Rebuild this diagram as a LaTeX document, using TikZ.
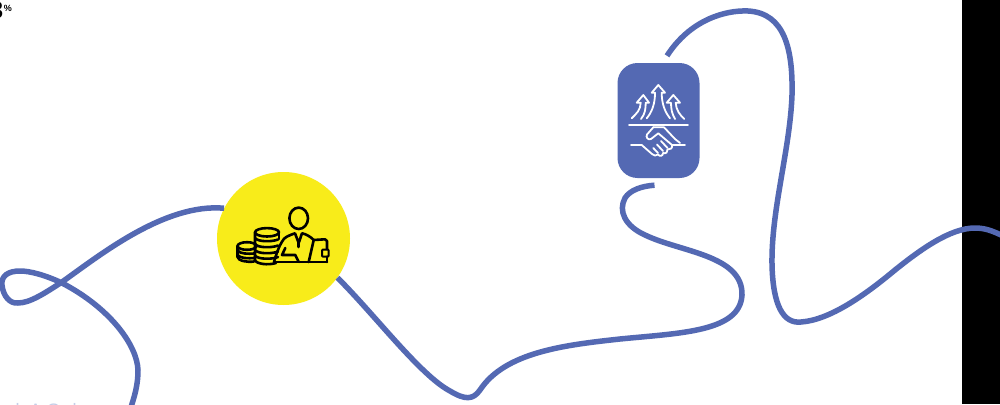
\documentclass[tikz,border=0pt]{standalone}
\usepackage{fontspec}
\setmainfont{Liberation Sans}
\definecolor{curveblue}{HTML}{5469B3}
\definecolor{sunyellow}{HTML}{F8EC1A}
\definecolor{faintblue}{HTML}{C5CEE8}
\tikzset{
  curve/.style={draw=curveblue,line width=5.5pt,line cap=butt},
  inkb/.style={draw=black,line width=2.6pt,line join=round,line cap=round},
  inkw/.style={draw=white,line width=1.8pt,line join=round,line cap=round},
}
\begin{document}
\begin{tikzpicture}[x=1pt,y=-1pt]
\useasboundingbox (0,0) rectangle (1000,404);
\fill[white] (0,0) rectangle (1000,404);
\fill[black] (962,0) rectangle (1000,404);
\begin{scope}
\clip (0,0) rectangle (1000,404);
\node[font=\bfseries\fontsize{24pt}{24pt}\selectfont,anchor=base east,inner sep=0pt] (big) at (3.5,19) {3};
\node[font=\bfseries\fontsize{9pt}{9pt}\selectfont,anchor=center,inner sep=0pt] (pct) at (8,8) {\%};
\node[font=\fontsize{18pt}{18pt}\selectfont,text=faintblue,anchor=base west,inner sep=0pt] (low) at (15.5,416) {l\hspace{10pt}A\hspace{5pt}G\hspace{12pt}l};
\coordinate (a0) at (131,407);
\coordinate (c0) at (1003,236);
\node[circle,fill=sunyellow,minimum size=133pt,inner sep=0pt] (coin) at (283.5,238.5) {};
\node[rectangle,rounded corners=20pt,fill=curveblue,minimum width=82pt,minimum height=115pt,inner sep=0pt] (deal) at (658.5,120.5) {};
\draw[curve] (a0) .. controls (136,392) and (138,382) .. (138,370)
  .. controls (137,345) and (110,308) .. (62,283)
  .. controls (45,275) and (30,271) .. (20,271)
  .. controls (8,271) and (1,276) .. (2,285)
  .. controls (3,296) and (10,304) .. (18,303)
  .. controls (30,303) and (45,293) .. (62,282)
  .. controls (100,255) and (165,203) .. (coin.153);
\draw[curve] (coin.-36) .. controls (375,315) and (420,375) .. (450,391)
  .. controls (465,400) and (473,400) .. (480,390)
  .. controls (505,352) and (565,345) .. (620,339)
  .. controls (680,333) and (740,332) .. (742,295)
  .. controls (743,255) and (680,252) .. (645,235)
  .. controls (625,226) and (618,211) .. (625,198)
  .. controls (630,190) and (642,186) .. ([xshift=-4pt,yshift=-7pt]deal.south);
\draw[curve] ([xshift=8.5pt,yshift=7pt]deal.north) .. controls (690,20) and (725,10) .. (748,11)
  .. controls (785,13) and (793,50) .. (792,95)
  .. controls (790,150) and (771,210) .. (772,265)
  .. controls (773,305) and (783,324) .. (801,322)
  .. controls (830,320) and (865,295) .. (895,270)
  .. controls (920,250) and (950,228) .. (975,228)
  .. controls (985,228) and (993,231) .. (c0);
\end{scope}
% person, coins and laptop icon
\draw[inkb] (298.7,218.3) ellipse (9.3 and 10.7);
\draw[inkb] (267,232.3) ellipse (12 and 4.2);
\draw[inkb] (255,232.3) -- (255,260) .. controls (256,264) and (268,265.5) .. (276,263);
\foreach \y in {241.5,247.5,253.5,259}{
  \draw[inkb] (255,\y-3.5) .. controls (258,\y+0.5) and (272,\y+0.5) .. (278,\y-2);
}
\draw[inkb] (279,232.3) -- (279,239);
\draw[inkb] (247,246) ellipse (9.5 and 3.8);
\draw[inkb] (237.5,246) -- (237.5,257) .. controls (238,261) and (248,262.5) .. (254,261.5);
\draw[inkb] (237.5,250.5) .. controls (240,254) and (249,254) .. (254,253.5);
\draw[inkb] (237.5,255) .. controls (240,258.5) and (249,258.5) .. (254,258);
\draw[inkb] (274,262) .. controls (276,255) and (279,246) .. (282,241.7)
  .. controls (284,237) and (289,235.5) .. (295,233.3) -- (298.7,243) -- (302,233.3)
  .. controls (306,234) and (311,237) .. (313.7,240);
\draw[inkb] (298.7,243) -- (298.7,247);
\draw[inkb] (274,262) -- (327,262);
\draw[inkb] (285.3,248) -- (282,255) -- (295.3,255) -- (298.7,262);
\draw[inkb] (308.7,262) -- (313.7,240) -- (325,239.3) -- (327,241) -- (327,249);
\draw[inkb] (327,256.7) -- (327,262);
\draw[inkb,line width=2pt,rounded corners=1pt] (322,249.5) rectangle (328.7,256.7);
% arrows and handshake icon
\draw[inkw] (629,125) -- (688,125);
\draw[inkw] (646.7,118.3) .. controls (652,112) and (655,104) .. (655,92.7) -- (651.7,92.7) -- (658.3,85) -- (665,92.7) -- (661.7,92.7)
  .. controls (661.7,104) and (665,112) .. (670,118.3);
\draw[inkw] (631.7,118.3) .. controls (636,114) and (640.7,110) .. (640.7,102.7) -- (636.7,102.7) -- (643.3,95) -- (649,102.7) -- (645.7,102.7)
  .. controls (645.7,109) and (645,114) .. (641,119);
\draw[inkw] (675,119) .. controls (672,114) and (671,109) .. (671,102.7) -- (666.7,102.7) -- (673.3,95) -- (680,102.7) -- (675.7,102.7)
  .. controls (676,110) and (680,115) .. (684.3,119);
\draw[inkw] (631,145) -- (641.7,145) -- (652,154) .. controls (654,156) and (656,156) .. (658,154.5)
  .. controls (660,157) and (663,156) .. (663,153) .. controls (666,154) and (668,152) .. (667.5,149.5)
  .. controls (670,150) and (673,148) .. (672,145) -- (675,145) -- (685,145);
\draw[inkw] (653.3,127.3) -- (647,134.5) .. controls (645.5,137) and (648,140.5) .. (651,139) -- (658.3,133.3) -- (672,145);
\draw[inkw] (653.3,127.3) -- (664,127.3) -- (675,139) -- (680,143);
\draw[inkw] (653.3,148) -- (658,153) (657,144.5) -- (663,151) (661,141) -- (667.5,148);
\end{tikzpicture}
\end{document}
